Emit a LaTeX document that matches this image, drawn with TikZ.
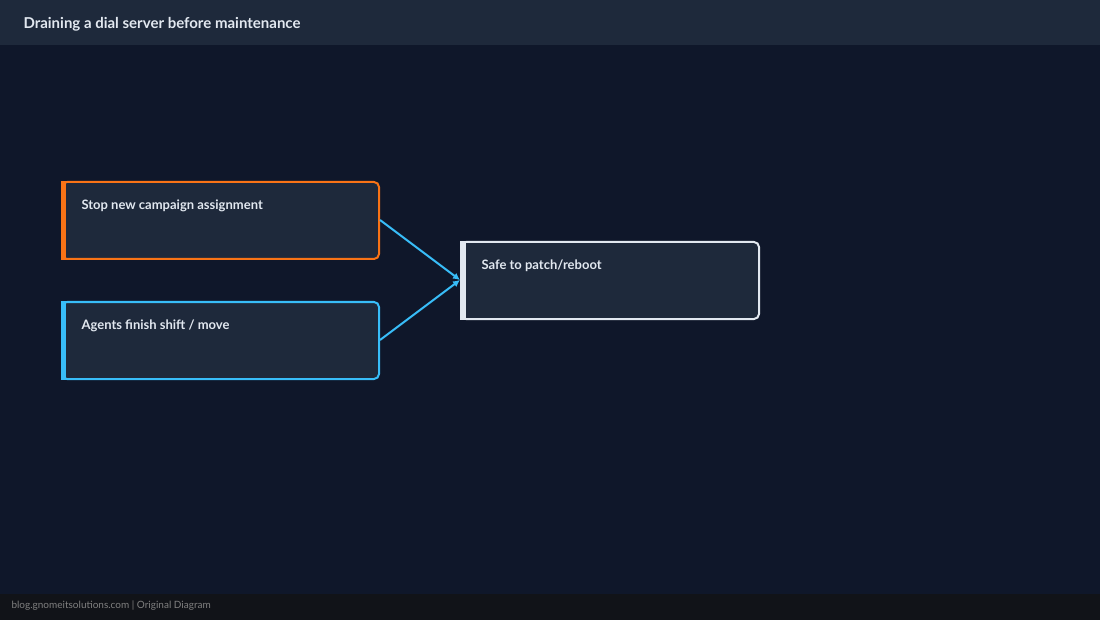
\documentclass[tikz,border=0pt]{standalone}
\usepackage{fontspec}
\setmainfont{Lato}
\usetikzlibrary{arrows.meta}
\definecolor{bg}{HTML}{0F172A}
\definecolor{hdr}{HTML}{1E293B}
\definecolor{boxf}{HTML}{1E293B}
\definecolor{ftr}{HTML}{111318}
\definecolor{org}{HTML}{F97316}
\definecolor{blu}{HTML}{38BDF8}
\definecolor{wht}{HTML}{E2E8F0}
\begin{document}
\begin{tikzpicture}[x=1pt,y=-1pt,
  box/.style={draw=#1,line width=2pt,fill=boxf,rounded corners=5pt},
  lbl/.style={anchor=west,text=wht,font=\fontsize{13}{15}\selectfont\bfseries},
  conn/.style={draw=blu,line width=2pt}]
\useasboundingbox (0,0) rectangle (1100,620);
\fill[bg] (0,0) rectangle (1100,620);
\fill[hdr] (0,0) rectangle (1100,45);
\node[anchor=west,text=wht,font=\fontsize{15}{18}\selectfont\bfseries] (title) at (20,24) {Draining a dial server before maintenance};
\fill[ftr] (0,594) rectangle (1100,620);
\node[anchor=west,text=gray,font=\fontsize{10}{12}\selectfont] (foot) at (8,606) {blog.gnomeitsolutions.com | Original Diagram};
% boxes
\draw[box=org] (62,182) rectangle (379,259);
\fill[org] (61,181) rectangle (66,260);
\coordinate (a) at (380,220);
\node[lbl] (ta) at (78,206) {Stop new campaign assignment};
\draw[box=blu] (62,302) rectangle (379,379);
\fill[blu] (61,301) rectangle (66,380);
\coordinate (b) at (380,340);
\node[lbl] (tb) at (78,326) {Agents finish shift / move};
\draw[box=wht] (461,242) rectangle (759,319);
\fill[wht] (460,241) rectangle (466,320);
\coordinate (c) at (460,280);
\node[lbl] (tc) at (478,266) {Safe to patch/reboot};
\draw[conn,-{Latex[length=7pt,width=7pt]}] (a) -- (c);
\draw[conn,-{Latex[length=7pt,width=7pt]}] (b) -- (c);
\end{tikzpicture}
\end{document}
